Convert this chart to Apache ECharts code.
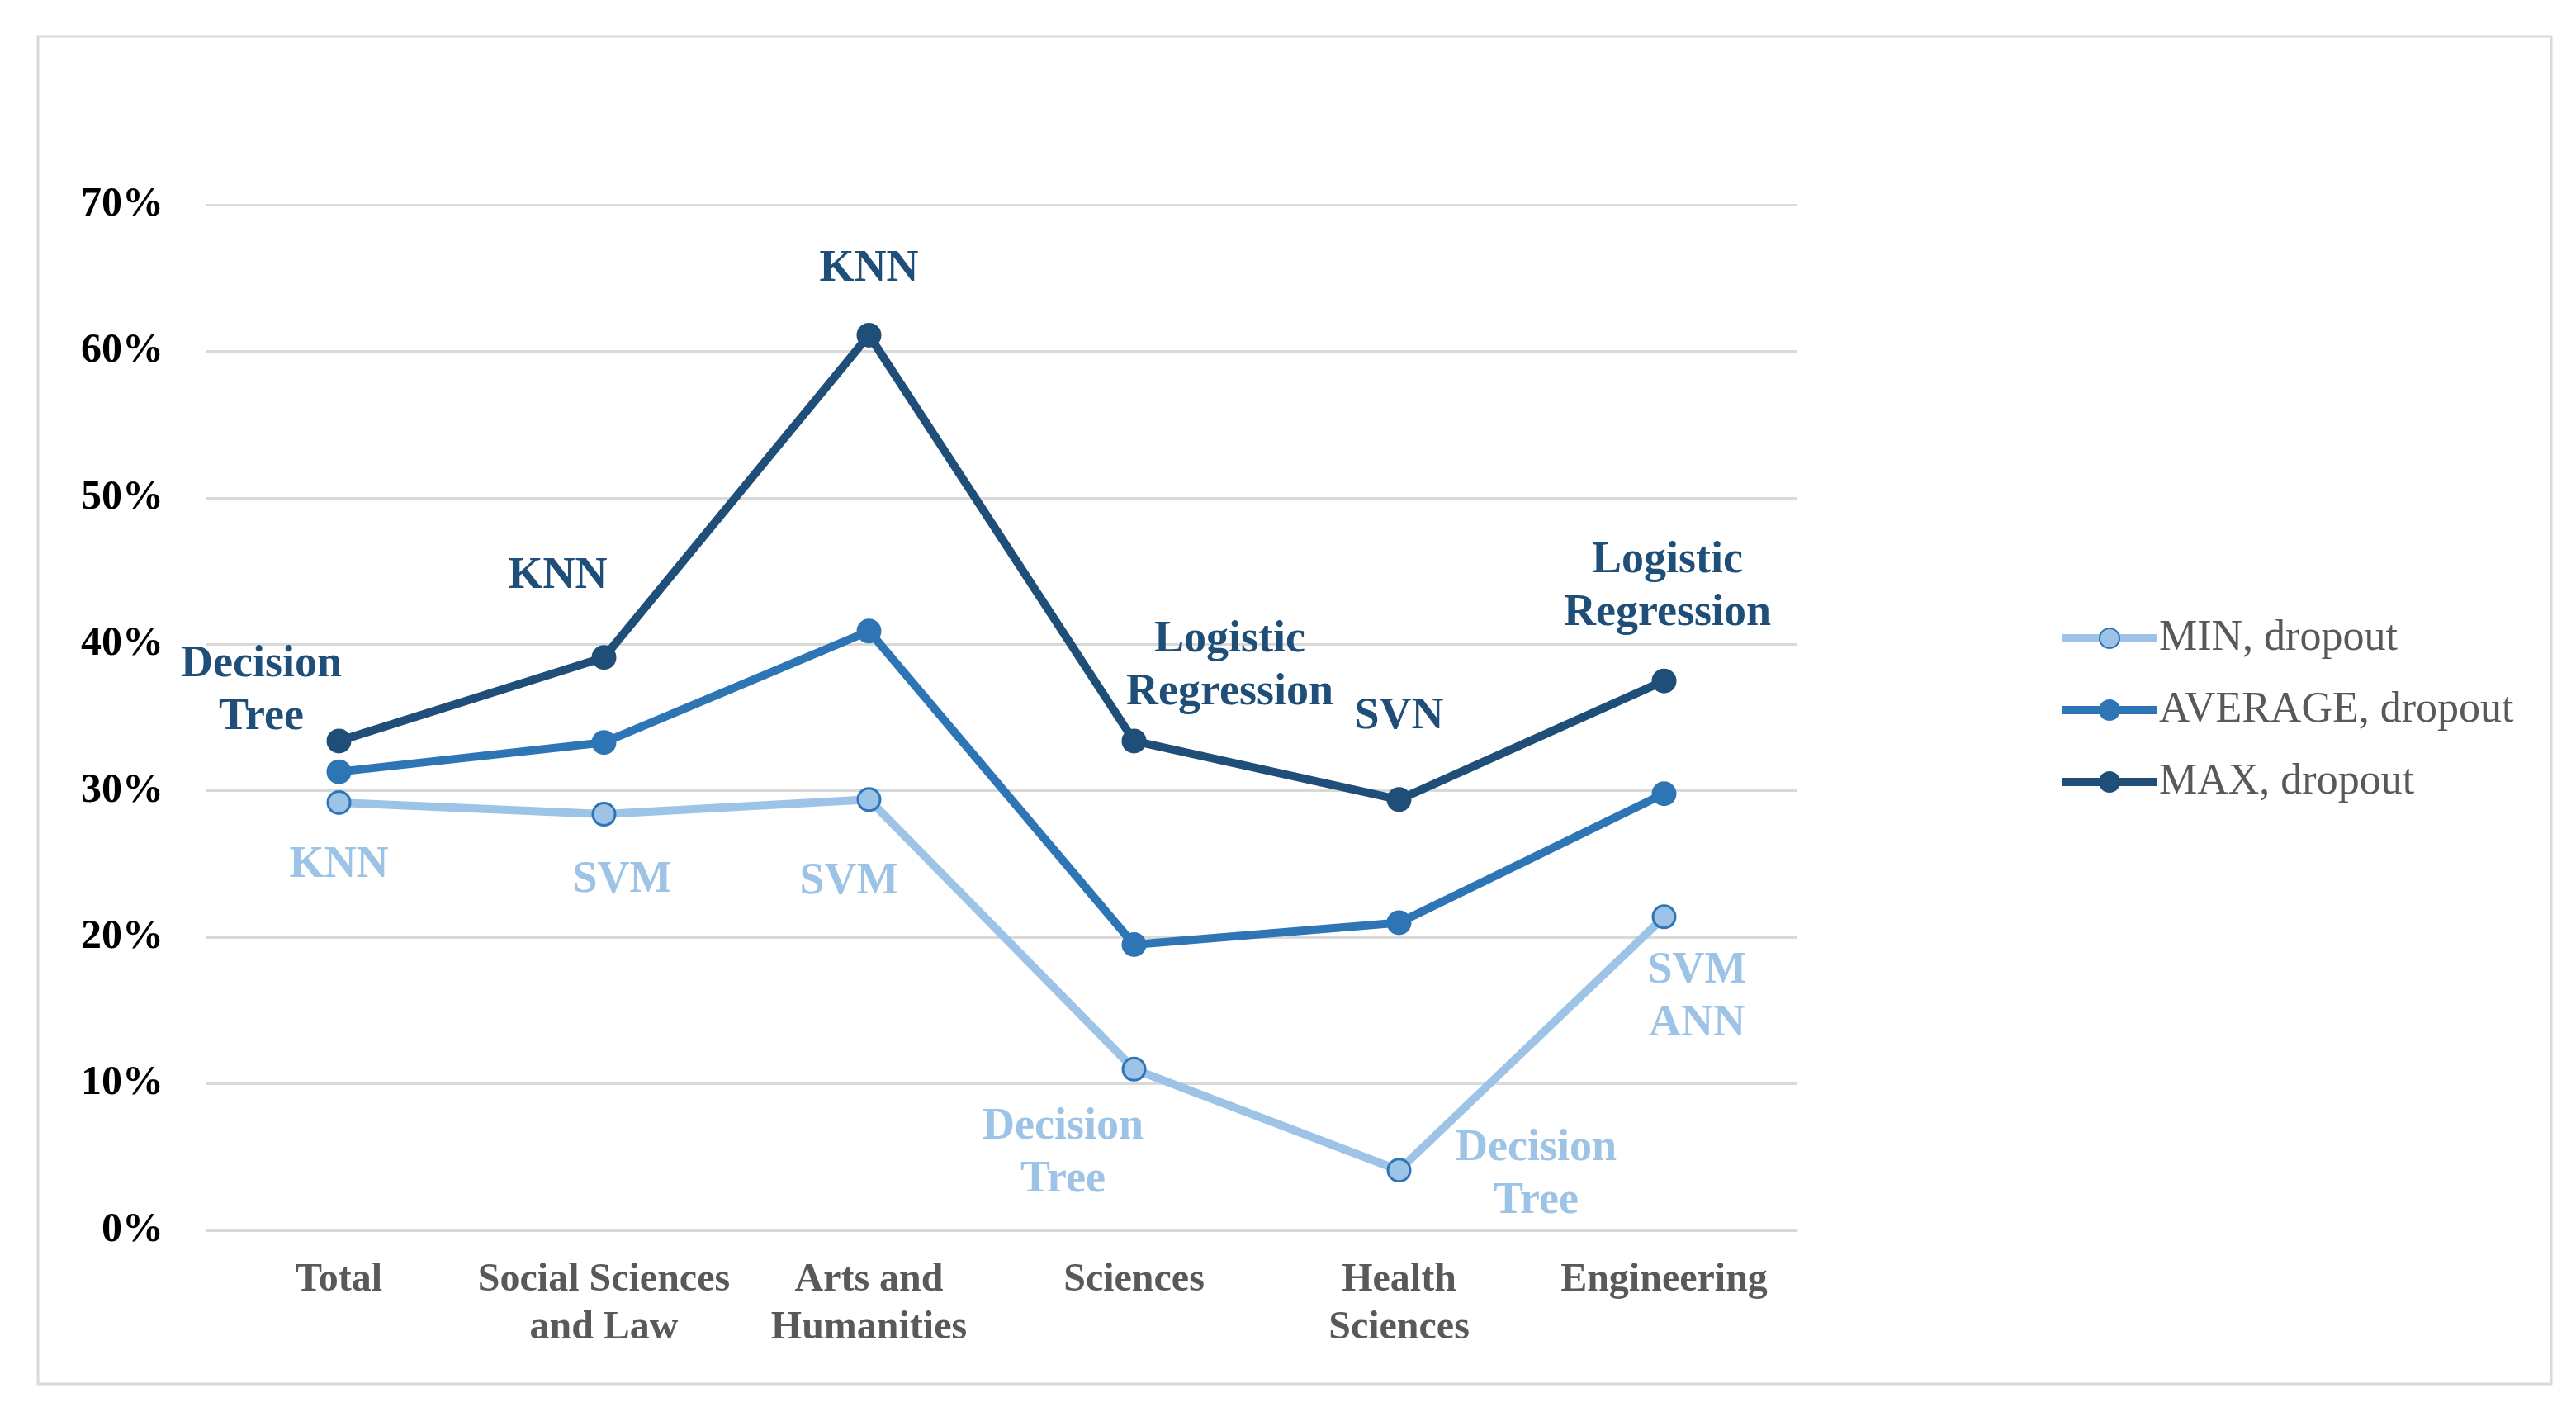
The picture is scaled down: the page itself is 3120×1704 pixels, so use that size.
<!DOCTYPE html>
<html>
<head>
<meta charset="utf-8">
<script src="https://cdn.jsdelivr.net/npm/echarts@6/dist/echarts.min.js"></script>
<style>
html,body{margin:0;padding:0;background:#fff;}
#chart{width:3120px;height:1704px;}
</style>
</head>
<body>
<div id="chart"></div>
<script>
const categories = ['Total', 'Social Sciences\nand Law', 'Arts and\nHumanities', 'Sciences', 'Health\nSciences', 'Engineering'];
const minValues = [29.2, 28.4, 29.4, 11.0, 4.1, 21.4];
const avgValues = [31.3, 33.3, 40.9, 19.5, 21.0, 29.8];
const maxValues = [33.4, 39.1, 61.1, 33.4, 29.4, 37.5];
const minLabels = ['KNN', 'SVM', 'SVM', 'Decision\nTree', 'Decision\nTree', 'SVM\nANN'];
const maxLabels = ['Decision\nTree', 'KNN', 'KNN', 'Logistic\nRegression', 'SVN', 'Logistic\nRegression'];
const yTicks = [0, 10, 20, 30, 40, 50, 60, 70];
const seriesNames = ['MIN, dropout', 'AVERAGE, dropout', 'MAX, dropout'];

// label placement (style, kept separate from data)
const maxOffsets = [[-94, -60], [-56, -98], [0, -80], [116, -90], [0, -100], [4, -114]];
const minOffsets = [[0, 76], [22, 80], [-24, 100], [-86, 102], [166, 6], [40, 98]];

const C_MIN = '#9DC3E6', C_AVG = '#2E75B6', C_MAX = '#1F4E79';
const serif = '"Liberation Serif", "DejaVu Serif", serif';

function labelled(values, labels, offsets, color) {
  return values.map((v, i) => ({
    value: v,
    label: {
      show: true,
      formatter: labels[i],
      position: 'inside',
      align: 'center',
      verticalAlign: 'middle',
      offset: offsets[i],
      color: color,
      fontFamily: serif,
      fontWeight: 'bold',
      fontSize: 54,
      lineHeight: 64
    }
  }));
}

const chart = echarts.init(document.getElementById('chart'));
chart.setOption({
  animation: false,
  backgroundColor: '#fff',
  graphic: [{
    type: 'rect',
    shape: { x: 46, y: 44, width: 3044, height: 1632 },
    style: { fill: 'none', stroke: '#D9D9D9', lineWidth: 3 },
    z: -1
  }],
  grid: { left: 250, right: 944, top: 248, bottom: 214, containLabel: false },
  legend: {
    orient: 'vertical',
    left: 2488,
    top: 742,
    itemWidth: 114,
    itemHeight: 30,
    itemGap: 35,
    data: [
      { name: seriesNames[0], lineStyle: { width: 10, color: C_MIN } },
      { name: seriesNames[1], lineStyle: { width: 10, color: C_AVG } },
      { name: seriesNames[2], lineStyle: { width: 10, color: C_MAX } }
    ],
    textStyle: { fontFamily: serif, fontSize: 52, color: '#595959', lineHeight: 30, padding: [0, 0, 0, -2] }
  },
  xAxis: {
    type: 'category',
    data: categories,
    boundaryGap: true,
    axisLine: { show: true, lineStyle: { color: '#D9D9D9', width: 3 } },
    axisTick: { show: false },
    axisLabel: {
      interval: 0,
      margin: 32,
      fontFamily: serif,
      fontWeight: 'bold',
      fontSize: 48,
      lineHeight: 58,
      color: '#595959'
    }
  },
  yAxis: {
    type: 'value',
    min: yTicks[0],
    max: yTicks[yTicks.length - 1],
    interval: 10,
    axisLine: { show: false },
    axisTick: { show: false },
    splitLine: { lineStyle: { color: '#D9D9D9', width: 3 } },
    axisLabel: {
      margin: 52,
      formatter: '{value}%',
      fontFamily: serif,
      fontWeight: 'bold',
      fontSize: 50,
      color: '#000'
    }
  },
  series: [
    {
      name: seriesNames[0],
      type: 'line',
      data: labelled(minValues, minLabels, minOffsets, C_MIN),
      lineStyle: { color: C_MIN, width: 10 },
      itemStyle: { color: C_MIN, borderColor: C_AVG, borderWidth: 3 },
      symbol: 'circle',
      symbolSize: 27,
      z: 2
    },
    {
      name: seriesNames[1],
      type: 'line',
      data: avgValues,
      lineStyle: { color: C_AVG, width: 10 },
      itemStyle: { color: C_AVG, borderColor: C_AVG, borderWidth: 2 },
      symbol: 'circle',
      symbolSize: 28,
      z: 3
    },
    {
      name: seriesNames[2],
      type: 'line',
      data: labelled(maxValues, maxLabels, maxOffsets, C_MAX),
      lineStyle: { color: C_MAX, width: 10 },
      itemStyle: { color: C_MAX, borderColor: C_MAX, borderWidth: 2 },
      symbol: 'circle',
      symbolSize: 28,
      z: 4
    }
  ]
});
</script>
</body>
</html>
